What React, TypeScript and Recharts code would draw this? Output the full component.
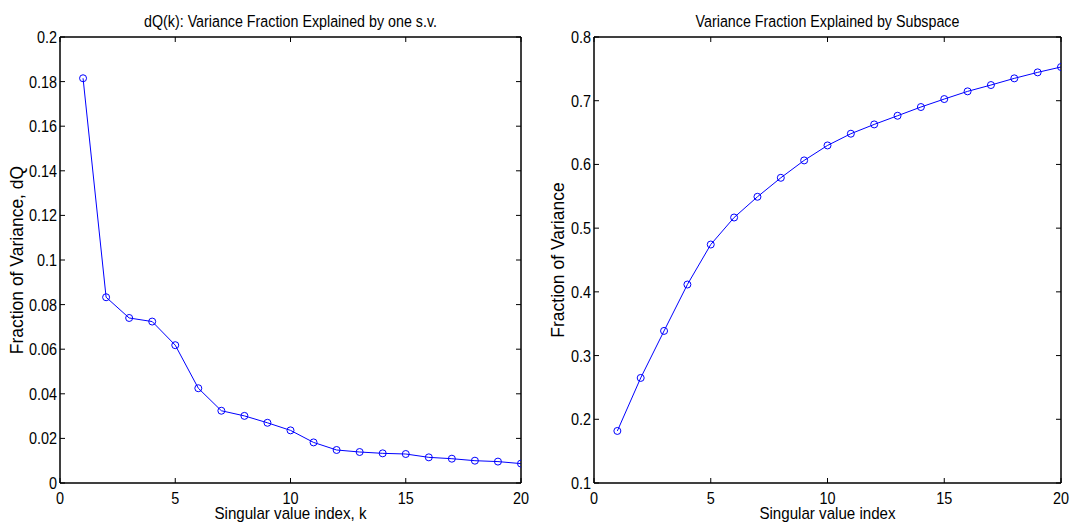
import React from 'react';
import { LineChart, Line, XAxis, YAxis, Label, ReferenceArea } from 'recharts';

// ---- data ----
const kIndex = [1, 2, 3, 4, 5, 6, 7, 8, 9, 10, 11, 12, 13, 14, 15, 16, 17, 18, 19, 20];
const dQValues = [
  0.1815, 0.0833, 0.0740, 0.0724, 0.0618, 0.0425, 0.0324, 0.0301, 0.0270, 0.0236,
  0.0182, 0.0148, 0.0139, 0.0133, 0.0130, 0.0115, 0.0109, 0.0100, 0.0096, 0.0087,
];
const cumValues = [
  0.1817, 0.2649, 0.3387, 0.4115, 0.4743, 0.5167, 0.5492, 0.5790, 0.6063, 0.6298,
  0.6482, 0.6628, 0.6764, 0.6901, 0.7026, 0.7147, 0.7246, 0.7351, 0.7445, 0.7529,
];
const xTicks = [0, 5, 10, 15, 20];
const xDomain: [number, number] = [0, 20];
const leftYTicks = [0, 0.02, 0.04, 0.06, 0.08, 0.1, 0.12, 0.14, 0.16, 0.18, 0.2];
const leftYDomain: [number, number] = [0, 0.2];
const rightYTicks = [0.1, 0.2, 0.3, 0.4, 0.5, 0.6, 0.7, 0.8];
const rightYDomain: [number, number] = [0.1, 0.8];

const leftTitle = 'dQ(k): Variance Fraction Explained by one s.v.';
const leftXLabel = 'Singular value index, k';
const leftYLabel = 'Fraction of Variance, dQ';
const rightTitle = 'Variance Fraction Explained by Subspace';
const rightXLabel = 'Singular value index';
const rightYLabel = 'Fraction of Variance';

const tableData = kIndex.map((k, i) => ({ k, dq: dQValues[i], cum: cumValues[i] }));

// ---- styles ----
const FONT = "'Liberation Sans', Arial, Helvetica, sans-serif";
const TICK_LEN = 5;
const BLUE = '#0000ff';

const fmt = (v: number) => String(Number(Number(v).toFixed(3)));

type STextProps = {
  x: number;
  y: number;
  sx: number;
  size: number;
  anchor: 'start' | 'middle' | 'end';
  rotate?: number;
  children: React.ReactNode;
};

// text drawn with a horizontal squeeze to mimic a narrow Helvetica
const SText = ({ x, y, sx, size, anchor, rotate = 0, children }: STextProps) => (
  <text
    transform={`translate(${x} ${y}) rotate(${rotate}) scale(${sx} 1)`}
    x={0}
    y={0}
    textAnchor={anchor}
    fontFamily={FONT}
    fontSize={size}
    fill="#000"
  >
    {children}
  </text>
);

const BottomTick = (props: any) => {
  const { x, y, payload } = props;
  return (
    <g>
      <line x1={x} x2={x} y1={y} y2={y - TICK_LEN} stroke="#000" strokeWidth={1} />
      <SText x={x} y={y + 20.5} sx={0.85} size={17} anchor="middle">
        {fmt(payload.value)}
      </SText>
    </g>
  );
};

const TopTick = (props: any) => {
  const { x, y } = props;
  return <line x1={x} x2={x} y1={y} y2={y + TICK_LEN} stroke="#000" strokeWidth={1} />;
};

const LeftTick = (props: any) => {
  const { x, y, payload } = props;
  return (
    <g>
      <line x1={x} x2={x + TICK_LEN} y1={y} y2={y} stroke="#000" strokeWidth={1} />
      <SText x={x - 3} y={y + 6} sx={0.85} size={17} anchor="end">
        {fmt(payload.value)}
      </SText>
    </g>
  );
};

const RightTick = (props: any) => {
  const { x, y } = props;
  return <line x1={x} x2={x - TICK_LEN} y1={y} y2={y} stroke="#000" strokeWidth={1} />;
};

const makeTitle = (text: string) => (props: any) => {
  const vb = props.viewBox;
  return (
    <SText x={vb.x + vb.width / 2} y={vb.y + vb.height - 10} sx={0.84} size={17} anchor="middle">
      {text}
    </SText>
  );
};

const makeXLabel = (text: string) => (props: any) => {
  const vb = props.viewBox;
  return (
    <SText x={vb.x + vb.width / 2} y={vb.y + 36} sx={0.89} size={17} anchor="middle">
      {text}
    </SText>
  );
};

const makeYLabel = (text: string, cx: number) => (props: any) => {
  const vb = props.viewBox;
  const x = vb.x + cx + 6;
  const y = vb.y + vb.height / 2;
  return (
    <SText x={x} y={y} sx={1.0} size={17.5} anchor="middle" rotate={-90}>
      {text}
    </SText>
  );
};

type PanelProps = {
  width: number;
  yAxisWidth: number;
  marginRight: number;
  dataKey: string;
  yDomain: [number, number];
  yTicks: number[];
  title: string;
  xLabel: string;
  yLabel: string;
  yLabelCx: number;
};

const Panel = (p: PanelProps) => (
  <LineChart
    width={p.width}
    height={526}
    data={tableData}
    margin={{ top: 36, right: p.marginRight, bottom: 0, left: 0 }}
  >
    <XAxis
      xAxisId="bottom"
      dataKey="k"
      type="number"
      domain={xDomain}
      ticks={xTicks}
      height={43}
      tickSize={0}
      tickMargin={0}
      tickLine={false}
      axisLine={{ stroke: '#000', strokeWidth: 1 }}
      tick={<BottomTick />}
      interval={0}
      allowDataOverflow
    >
      <Label content={makeXLabel(p.xLabel)} />
    </XAxis>
    <XAxis
      xAxisId="top"
      orientation="top"
      dataKey="k"
      type="number"
      domain={xDomain}
      ticks={xTicks}
      height={1}
      tickSize={0}
      tickMargin={0}
      tickLine={false}
      axisLine={{ stroke: '#000', strokeWidth: 1 }}
      tick={<TopTick />}
      interval={0}
      allowDataOverflow
    >
      <Label content={makeTitle(p.title)} />
    </XAxis>
    <YAxis
      yAxisId="left"
      type="number"
      domain={p.yDomain}
      ticks={p.yTicks}
      width={p.yAxisWidth}
      tickSize={0}
      tickMargin={0}
      tickLine={false}
      axisLine={{ stroke: '#000', strokeWidth: 1 }}
      tick={<LeftTick />}
      interval={0}
      allowDataOverflow
    >
      <Label content={makeYLabel(p.yLabel, p.yLabelCx)} />
    </YAxis>
    <YAxis
      yAxisId="right"
      orientation="right"
      type="number"
      domain={p.yDomain}
      ticks={p.yTicks}
      width={1}
      tickSize={0}
      tickMargin={0}
      tickLine={false}
      axisLine={{ stroke: '#000', strokeWidth: 1 }}
      tick={<RightTick />}
      interval={0}
      allowDataOverflow
    />
    {/* axes box */}
    <ReferenceArea
      xAxisId="bottom"
      yAxisId="left"
      x1={xDomain[0]}
      x2={xDomain[1]}
      y1={p.yDomain[0]}
      y2={p.yDomain[1]}
      fill="none"
      fillOpacity={0}
      stroke="#000"
      strokeWidth={1}
      strokeOpacity={1}
      ifOverflow="visible"
    />
    {/* invisible twin so the top/right box axes get a domain and render */}
    <Line
      xAxisId="top"
      yAxisId="right"
      type="linear"
      dataKey={p.dataKey}
      stroke="none"
      dot={false}
      activeDot={false}
      legendType="none"
      isAnimationActive={false}
    />
    <Line
      xAxisId="bottom"
      yAxisId="left"
      type="linear"
      dataKey={p.dataKey}
      stroke={BLUE}
      strokeWidth={1}
      dot={{ r: 3.5, stroke: BLUE, strokeWidth: 1, fill: 'none' }}
      isAnimationActive={false}
    />
  </LineChart>
);

export default function App() {
  return (
    <div style={{ position: 'absolute', left: 0, top: 0, width: 1073, height: 526, background: '#fff' }}>
      <div style={{ position: 'absolute', left: 0, top: 0 }}>
        <Panel
          width={540}
          yAxisWidth={60}
          marginRight={18}
          dataKey="dq"
          yDomain={leftYDomain}
          yTicks={leftYTicks}
          title={leftTitle}
          xLabel={leftXLabel}
          yLabel={leftYLabel}
          yLabelCx={17}
        />
      </div>
      <div style={{ position: 'absolute', left: 540, top: 0 }}>
        <Panel
          width={533}
          yAxisWidth={54}
          marginRight={11}
          dataKey="cum"
          yDomain={rightYDomain}
          yTicks={rightYTicks}
          title={rightTitle}
          xLabel={rightXLabel}
          yLabel={rightYLabel}
          yLabelCx={18}
        />
      </div>
    </div>
  );
}
